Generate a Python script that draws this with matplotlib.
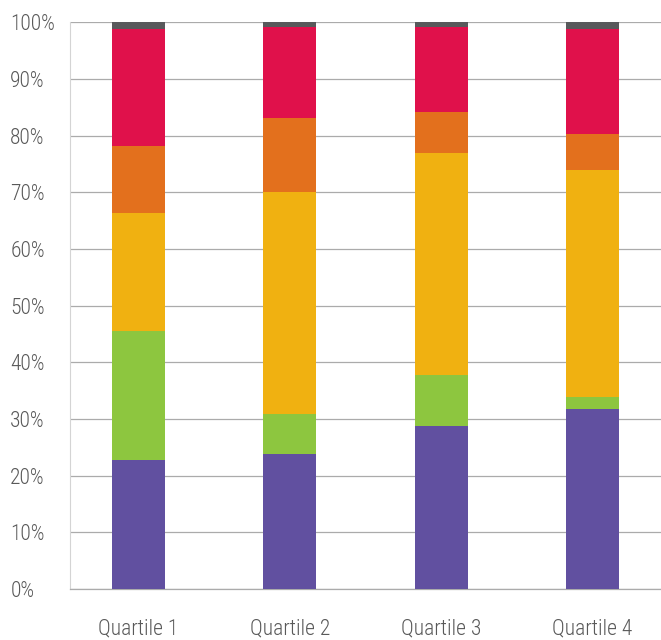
import matplotlib
matplotlib.use("Agg")
import matplotlib.pyplot as plt
from matplotlib.ticker import PercentFormatter

# share of each group within the quartiles (percent, stacked bottom to top)
quartiles = ["Quartile 1", "Quartile 2", "Quartile 3", "Quartile 4"]
purple = [22.8, 23.9, 28.8, 31.8]
green = [22.8, 7.0, 9.0, 2.1]
yellow = [20.8, 39.2, 39.2, 40.1]
orange = [11.8, 13.0, 7.2, 6.3]
red = [20.7, 16.1, 15.0, 18.6]
grey = [1.1, 0.8, 0.8, 1.1]

series = [purple, green, yellow, orange, red, grey]
colours = ["#6150a0", "#8dc63f", "#f0b111", "#e3701d", "#e0114b", "#58595b"]

plt.rcParams["font.family"] = ["Roboto Condensed", "Liberation Sans Narrow", "Roboto", "DejaVu Sans"]
plt.rcParams["font.weight"] = "light"

fig = plt.figure(figsize=(6.61, 6.40), dpi=100)
ax = fig.add_axes([0.106, 0.0797, 0.894, 0.8855])

x = range(len(quartiles))
bottom = [0.0] * len(quartiles)
for vals, col in zip(series, colours):
    ax.bar(x, vals, width=0.35, bottom=bottom, color=col, zorder=3, clip_on=False)
    bottom = [b + v for b, v in zip(bottom, vals)]

ax.set_xlim(-0.453, 3.453)
ax.set_ylim(0, 100)
ax.set_yticks(range(0, 101, 10))
ax.yaxis.set_major_formatter(PercentFormatter(decimals=0))
ax.set_xticks(list(x))
ax.set_xticklabels(quartiles)

ax.grid(axis="y", color="#ababab", linewidth=0.9, zorder=0)
for side in ["right", "top"]:
    ax.spines[side].set_visible(False)
ax.spines["left"].set_color("#d4d4d4")
ax.spines["left"].set_linewidth(0.8)
ax.spines["bottom"].set_color("#ababab")
ax.spines["bottom"].set_linewidth(0.9)

ax.tick_params(axis="both", length=0, labelsize=15.5, labelcolor="#595959")
ax.tick_params(axis="y", pad=43)
ax.tick_params(axis="x", pad=21)
for lbl in ax.get_yticklabels():
    lbl.set_horizontalalignment("left")

fig.savefig("out.png", dpi=100)
